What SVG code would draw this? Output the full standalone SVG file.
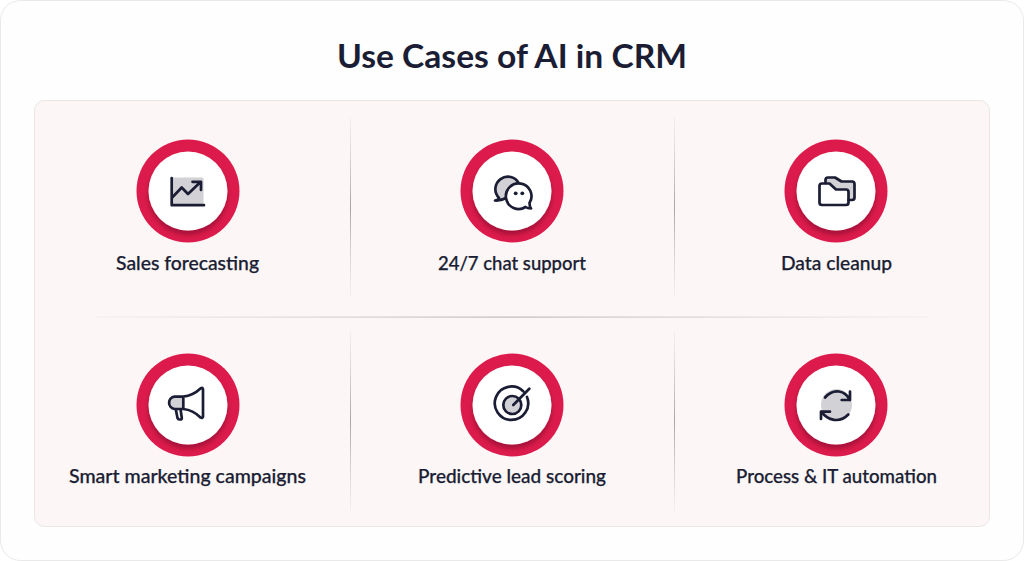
<svg xmlns="http://www.w3.org/2000/svg" width="1024" height="561" viewBox="0 0 1024 561">
<style>
text{font-family:"Lato","Liberation Sans",sans-serif;fill:#1a1d33;text-anchor:middle}
.t{font-size:33px;font-weight:700}
.l{font-size:18.5px;font-weight:500;stroke:#1a1d33;stroke-width:.25}
.ring{fill:#dc1b4c}
.disc{fill:#fff;filter:url(#sh)}
.i{fill:none;stroke:#1a1d33;stroke-width:2.7;stroke-linecap:round;stroke-linejoin:round}
.g{fill:#d2d2d6}
</style>
<defs>
<filter id="sh" x="-30%" y="-30%" width="160%" height="170%"><feDropShadow dx="0" dy="4" stdDeviation="2.5" flood-color="#4a0a1e" flood-opacity=".4"/></filter>
<linearGradient id="v" x1="0" y1="0" x2="0" y2="1"><stop offset="0" stop-color="#c9c5c3" stop-opacity=".15"/><stop offset=".5" stop-color="#aaa5a3"/><stop offset="1" stop-color="#c9c5c3" stop-opacity=".15"/></linearGradient>
<linearGradient id="h" x1="0" y1="0" x2="1" y2="0"><stop offset="0" stop-color="#cfcac8" stop-opacity=".15"/><stop offset=".5" stop-color="#bfbab8"/><stop offset="1" stop-color="#cfcac8" stop-opacity=".15"/></linearGradient>
</defs>
<rect width="1024" height="561" fill="#fff"/>
<rect x="0.5" y="0.5" width="1023" height="560" rx="20" fill="#fefefe" stroke="#e9e9e9"/>
<text class="t" x="512" y="67.500" textLength="350" lengthAdjust="spacingAndGlyphs">Use Cases of AI in CRM</text>
<rect x="34.500" y="100.500" width="955" height="426" rx="10" fill="#fcf7f6" stroke="#ebe6e4"/>
<g id="connectors">
<rect x="350" y="117" width="1" height="180" fill="url(#v)"/>
<rect x="674" y="117" width="1" height="180" fill="url(#v)"/>
<rect x="350" y="331" width="1" height="180" fill="url(#v)"/>
<rect x="674" y="331" width="1" height="180" fill="url(#v)"/>
<rect x="96" y="316.500" width="832" height="1.200" fill="url(#h)"/>
</g>
<g id="sales-forecasting">
<circle class="ring" cx="188" cy="191" r="51.500"/><circle class="disc" cx="188" cy="191" r="39.500"/>
<rect class="g" x="171" y="177.500" width="32.500" height="28.500" rx="1.500"/>
<path class="i" d="M171.700 178V205.200H204M171.700 198L181.700 187.500L188 194L200.500 182M192.500 181.800H201V190"/>
<text class="l" x="187.500" y="269.500" textLength="143" lengthAdjust="spacingAndGlyphs">Sales forecasting</text>
</g>
<g id="chat-support">
<circle class="ring" cx="512" cy="191" r="51.500"/><circle class="disc" cx="512" cy="191" r="39.500"/>
<path class="g i" style="fill:#d2d2d6" d="M495 200.500Q498 200 499 198A12.500 12.500 0 1 1 519 183.500A12.700 12.700 0 0 0 507 197.500Q501 201 495 200.500Z"/>
<path class="i" style="fill:#fff" d="M531 208.500Q527.500 208.500 525.500 207A12.800 12.800 0 1 1 529.500 203Q529.500 206.500 531 208.500Z"/>
<circle cx="515.700" cy="193.300" r="1.900" fill="#1a1d33"/><circle cx="522.300" cy="193.300" r="1.900" fill="#1a1d33"/>
<text class="l" x="512" y="269.500" textLength="148" lengthAdjust="spacingAndGlyphs">24/7 chat support</text>
</g>
<g id="data-cleanup">
<circle class="ring" cx="836" cy="191" r="51.500"/><circle class="disc" cx="836" cy="191" r="39.500"/>
<path class="g" d="M825 183V180Q825 177.500 827.500 177.500H835L841.500 181.500H852Q854.500 181.500 854.500 184V197.500Q854.500 200 852 200H848.500V192Q848.500 189.500 846 189.500H836L829.500 183.500Z"/>
<path class="i" d="M825.500 183V180Q825.500 177.500 828 177.500H835L841.500 181.500H852Q854.500 181.500 854.500 184V197.500Q854.500 200 852 200H848.500"/>
<path class="i" d="M822 183.500H829.500L836 189.500H846Q848.500 189.500 848.500 192V202.500Q848.500 205 846 205H822Q819.500 205 819.500 202.500V186Q819.500 183.500 822 183.500Z"/>
<text class="l" x="836.500" y="269.500" textLength="111" lengthAdjust="spacingAndGlyphs">Data cleanup</text>
</g>
<g id="smart-marketing">
<circle class="ring" cx="188" cy="405" r="51.500"/><circle class="disc" cx="188" cy="405" r="39.500"/>
<path class="g" d="M183.300 396.700H174.500A6.200 6.200 0 0 0 174.500 409H183.300Z"/>
<path class="i" d="M183.300 396.700H174.500A6.200 6.200 0 0 0 174.500 409H183.300ZM183.300 396.700Q193 395.500 200.500 388.500Q203 387 203 389.500V416.500Q203 418.500 200.500 417.500Q193 410 183.300 409M175.700 409L177.500 418Q178 419.500 179.500 419.500H180.500Q182 419.500 181.800 418L180.500 409"/>
<text class="l" x="187.500" y="482.500" textLength="237" lengthAdjust="spacingAndGlyphs">Smart marketing campaigns</text>
</g>
<g id="predictive-lead-scoring">
<circle class="ring" cx="512" cy="405" r="51.500"/><circle class="disc" cx="512" cy="405" r="39.500"/>
<circle class="g" cx="512.300" cy="405" r="9"/>
<circle class="i" cx="512.300" cy="405" r="9"/>
<path class="i" d="M513.300 405L529.300 388.800M523.200 391.300A16.700 16.700 0 1 0 527 397"/>
<text class="l" x="512" y="482.500" textLength="188" lengthAdjust="spacingAndGlyphs">Predictive lead scoring</text>
</g>
<g id="process-automation">
<circle class="ring" cx="836" cy="405" r="51.500"/><circle class="disc" cx="836" cy="405" r="39.500"/>
<ellipse class="g" cx="836.500" cy="405" rx="15.500" ry="16"/>
<path class="i" d="M825 397.500Q831 390.500 839 391.500Q846 392.500 850 400M850 391.700V400H841.700"/>
<path class="i" d="M848.300 414.500Q842 421 834 419.800Q826 418.500 821.700 411.700M821 419V411.700H830"/>
<text class="l" x="836.500" y="482.500" textLength="201" lengthAdjust="spacingAndGlyphs">Process &amp; IT automation</text>
</g>
</svg>
